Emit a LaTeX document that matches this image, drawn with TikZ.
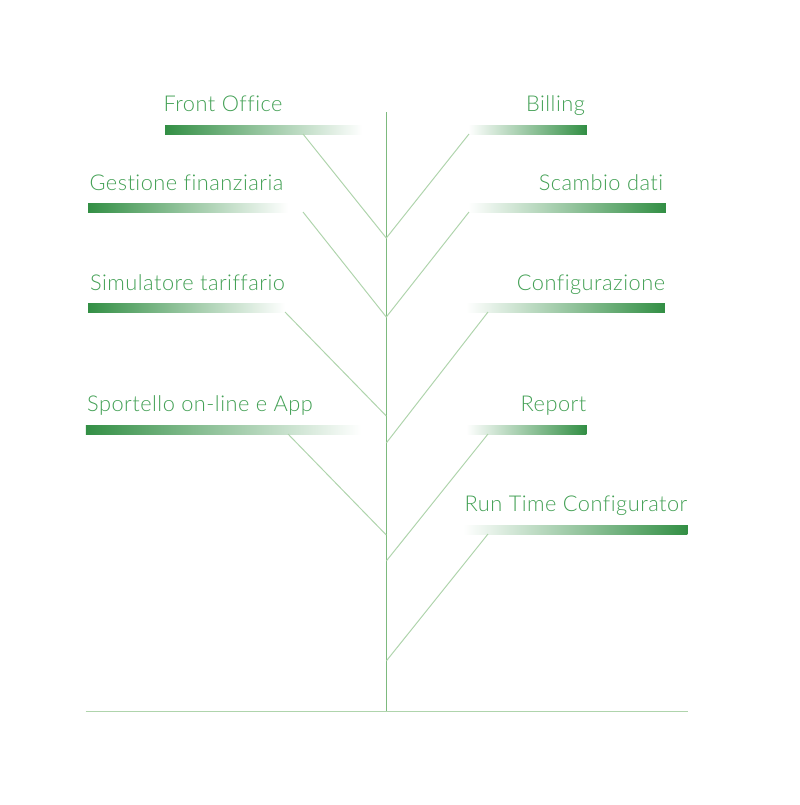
\documentclass[tikz,border=0pt]{standalone}
\usepackage{fontspec}
\usepackage{xcolor}
\setmainfont[Ligatures=NoCommon, LetterSpace=2.2]{Lato Light}
\usetikzlibrary{calc, positioning}
\definecolor{barGreen}{HTML}{338F45}
\definecolor{textGreen}{HTML}{43A055}
\definecolor{trunkGreen}{HTML}{7DBA7E}
\definecolor{branchGreen}{HTML}{AFD4AC}
\tikzset{
	lbl/.style={text=textGreen, font=\fontsize{15.5}{18}\selectfont, inner sep=0pt, anchor=base},
	barl/.style={inner sep=0pt, minimum height=0.225cm, anchor=west, left color=barGreen, right color=white},
	barr/.style={inner sep=0pt, minimum height=0.225cm, anchor=west, left color=white, right color=barGreen},
	trunk/.style={draw=trunkGreen, line width=0.7pt},
	branch/.style={draw=branchGreen, line width=0.7pt}
}
\begin{document}
\begin{tikzpicture}[x=0.025cm, y=-0.025cm]
	\useasboundingbox (0, 0) rectangle (800, 805);

	\node[lbl] (lfront) at (223, 111.7) {Front Office};
	\node[lbl] (lgest) at (186.5, 190.7) {Gestione finanziaria};
	\node[lbl] (lsim) at (187.5, 290.7) {Simulatore tariffario};
	\node[lbl] (lsport) at (200, 411.7) {Sportello on-line e App};
	\node[lbl] (lbill) at (555.5, 111.7) {Billing};
	\node[lbl] (lscam) at (601, 190.7) {Scambio dati};
	\node[lbl] (lconf) at (591, 290.7) {Configurazione};
	\node[lbl] (lrep) at (553.5, 411.7) {Report};
	\node[lbl] (lrun) at (576, 511.7) {Run Time Configurator};

	\node[barl, minimum width=4.925cm] (bfront) at (165, 130) {};
	\node[barl, minimum width=5cm] (bgest) at (88, 208) {};
	\node[barl, minimum width=4.925cm] (bsim) at (88, 308) {};
	\node[barl, minimum width=6.875cm] (bsport) at (85.5, 429.5) {};
	\node[barr, minimum width=2.95cm] (bbill) at (468, 130) {};
	\node[barr, minimum width=4.925cm] (bscam) at (468, 208) {};
	\node[barr, minimum width=4.95cm] (bconf) at (466, 308) {};
	\node[barr, minimum width=3cm] (brep) at (466, 429.5) {};
	\node[barr, minimum width=5.6cm] (brun) at (463, 529.5) {};

	% square off the dark ends
	\foreach \b in {bfront, bgest, bsim, bsport}
		\fill[barGreen] (\b.north west) rectangle ($(\b.south west)+(2,0)$);
	\foreach \b in {bbill, bscam, bconf, brep, brun}
		\fill[barGreen] (\b.north east) rectangle ($(\b.south east)+(-2,0)$);

	\coordinate (top) at (386.3, 112);
	\coordinate (foot) at (386.3, 711);
	\coordinate (gl) at (85.5, 711);
	\coordinate (gr) at (687.5, 711);

	\draw[trunk] (top) -- (foot);
	\draw[branch] (gl) -- (gr);

	\draw[branch]
	(303, 134) -- (386.3, 238) -- (469, 134)
	(303, 212) -- (386.3, 317) -- (469, 212)
	(285, 312) -- (386.3, 416)
	(488, 312) -- (386.3, 443)
	(288, 434) -- (386.3, 535)
	(488, 434) -- (386.3, 561)
	(488, 534) -- (386.3, 661);
\end{tikzpicture}
\end{document}
